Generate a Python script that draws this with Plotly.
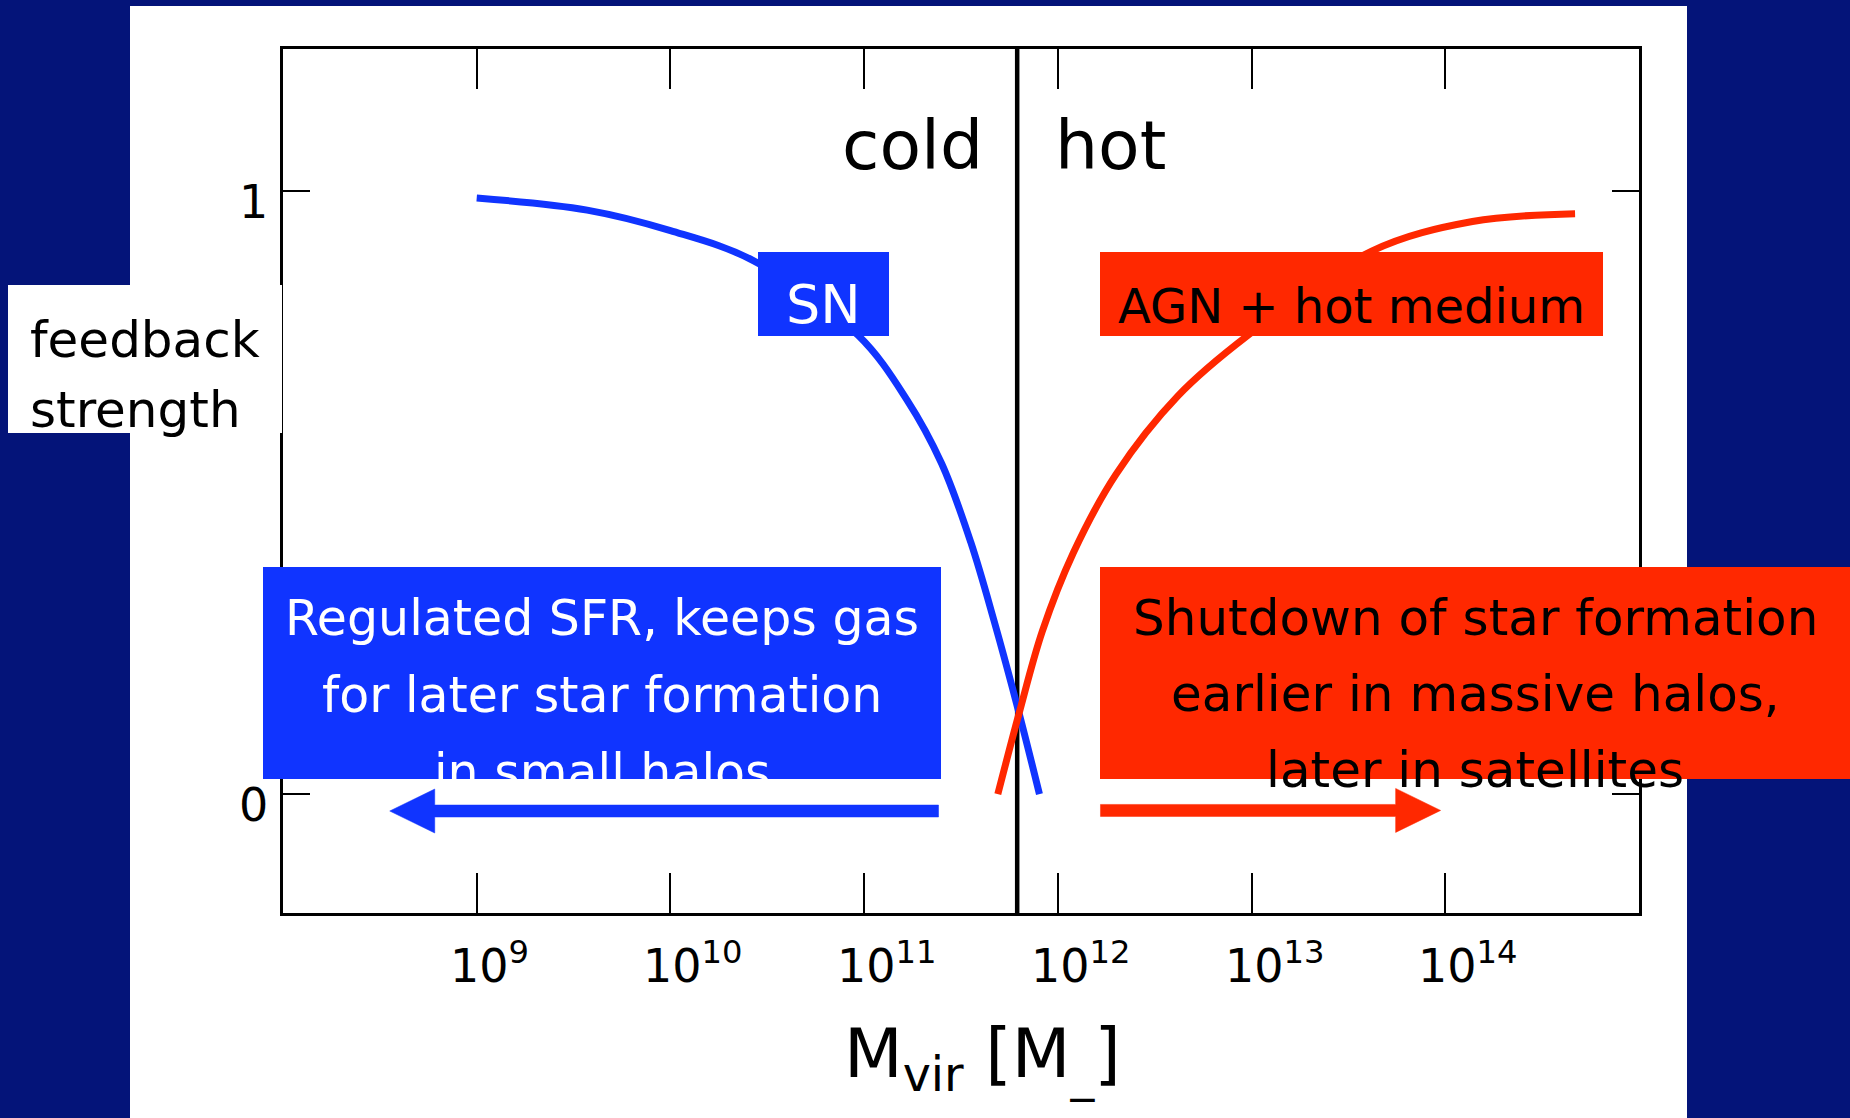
import numpy as np
import plotly.graph_objects as go

# ---------------- data ----------------
x_tick_exponents = [9, 10, 11, 12, 13, 14]          # ticks at 10^9 ... 10^14
y_tick_values = [0, 1]
y_tick_labels = ["0", "1"]

# SN feedback curve (log10 Mvir, feedback strength)
sn_log_mass = [9.0, 9.57, 10.0, 10.43, 10.97, 11.22, 11.40, 11.55, 11.67, 11.80, 11.905]
sn_strength = [0.988, 0.968, 0.934, 0.884, 0.760, 0.654, 0.548, 0.418, 0.288, 0.134, 0.0]

# AGN + hot medium feedback curve
agn_log_mass = [11.69, 11.80, 11.92, 12.08, 12.30, 12.62, 12.98, 13.62, 14.14, 14.67]
agn_strength = [0.0, 0.134, 0.270, 0.400, 0.530, 0.660, 0.760, 0.900, 0.949, 0.962]

# cold / hot transition mass (log10)
divider_log_mass = 11.79

# arrows (log10 mass of tail and tip, strength level)
blue_arrow_tail, blue_arrow_tip, blue_arrow_y = 11.384, 8.551, -0.028
red_arrow_tail, red_arrow_tip, red_arrow_y = 12.22, 13.976, -0.027

# text
cold_label, hot_label = "cold", "hot"
sn_label = "SN"
agn_label = "AGN + hot medium"
blue_lines = ["Regulated SFR, keeps gas", "for later star formation", "in small halos"]
red_lines = ["Shutdown of star formation", "earlier in massive halos,", "later in satellites"]
ylabel_lines = ["feedback", "strength"]
xtitle = "M<sub>vir</sub> [M<sub>_</sub>]"

# ---------------- layout constants ----------------
FIG_W, FIG_H = 1850, 1118
L, T, W, H = 283, 49, 1356, 864
XR = [8, 15]
YR = [-0.197, 1.235]
FONT = "DejaVu Sans"
NAVY = "#041479"
BLUE = "#1034FF"
RED = "#FF2800"
DESC = 0.236   # font descent (em)
ASC = 0.928    # font ascent (em)


def pxX(px):
    return (px - L) / W


def pxY(py):
    return (T + H - py) / H


def y_to_px(v):
    return T + (YR[1] - v) / (YR[1] - YR[0]) * H


fig = go.Figure()

# divider line
fig.add_trace(go.Scatter(x=[10 ** divider_log_mass] * 2, y=YR, mode="lines",
                         line=dict(color="black", width=4.5), hoverinfo="skip", showlegend=False))

# curves
fig.add_trace(go.Scatter(x=10 ** np.array(sn_log_mass), y=sn_strength, mode="lines",
                         line=dict(color=BLUE, width=7, shape="spline", smoothing=1.0),
                         showlegend=False))
fig.add_trace(go.Scatter(x=10 ** np.array(agn_log_mass), y=agn_strength, mode="lines",
                         line=dict(color=RED, width=7, shape="spline", smoothing=1.0),
                         showlegend=False))

# arrows as filled polygons
HEAD_LEN_DEC = 45 / (W / (XR[1] - XR[0]))
HEAD_HALF = 22 / H * (YR[1] - YR[0])
SHAFT_HALF = 6 / H * (YR[1] - YR[0])


def arrow(tail, tip, yc, color):
    d = np.sign(tip - tail)
    base = tip - d * HEAD_LEN_DEC
    xs = [tail, base, base, tip, base, base, tail, tail]
    ys = [yc + SHAFT_HALF, yc + SHAFT_HALF, yc + HEAD_HALF, yc, yc - HEAD_HALF,
          yc - SHAFT_HALF, yc - SHAFT_HALF, yc + SHAFT_HALF]
    fig.add_trace(go.Scatter(x=10 ** np.array(xs), y=ys, mode="lines", fill="toself",
                             fillcolor=color, line=dict(color=color, width=0.5),
                             hoverinfo="skip", showlegend=False))


arrow(blue_arrow_tail, blue_arrow_tip, blue_arrow_y, BLUE)
arrow(red_arrow_tail, red_arrow_tip, red_arrow_y, RED)

# ---------------- shapes ----------------
shapes = [
    # white slide panel
    dict(type="rect", xref="paper", yref="paper", x0=pxX(130), x1=pxX(1687), y0=pxY(6), y1=pxY(1118),
         fillcolor="white", line=dict(width=0), layer="below"),
    # y-label white box
    dict(type="rect", xref="paper", yref="paper", x0=pxX(8), x1=pxX(282), y0=pxY(285), y1=pxY(433),
         fillcolor="white", line=dict(width=0), layer="above"),
    # SN box
    dict(type="rect", xref="paper", yref="paper", x0=pxX(758), x1=pxX(889), y0=pxY(252), y1=pxY(336),
         fillcolor=BLUE, line=dict(width=0), layer="above"),
    # AGN box
    dict(type="rect", xref="paper", yref="paper", x0=pxX(1100), x1=pxX(1603), y0=pxY(252), y1=pxY(336),
         fillcolor=RED, line=dict(width=0), layer="above"),
    # big blue box
    dict(type="rect", xref="paper", yref="paper", x0=pxX(263), x1=pxX(941), y0=pxY(567), y1=pxY(779),
         fillcolor=BLUE, line=dict(width=0), layer="above"),
    # big red box
    dict(type="rect", xref="paper", yref="paper", x0=pxX(1100), x1=pxX(1850), y0=pxY(567), y1=pxY(779),
         fillcolor=RED, line=dict(width=0), layer="above"),
]

annotations = []


def label(text, x, baseline, size, color="black", xanchor="center", xref="paper", xshift=0):
    annotations.append(dict(text=text, x=x, xref=xref, y=pxY(baseline + DESC * size), yref="paper",
                            yanchor="bottom", xanchor=xanchor, showarrow=False, xshift=xshift,
                            font=dict(family=FONT, size=size, color=color),
                            borderpad=0, borderwidth=0))


# x tick labels
for e in x_tick_exponents:
    label(f"10<sup>{e}</sup>", e, 982, 46, xanchor="left", xref="x", xshift=-27)

# y tick labels
for v, t in zip(y_tick_values, y_tick_labels):
    label(t, pxX(253), y_to_px(v) + 27, 46)

# cold / hot
label(cold_label, pxX(912), 169, 68)
label(hot_label, pxX(1110), 169, 68)

# SN / AGN box labels
label(sn_label, pxX(823), 323, 54, color="white")
label(agn_label, pxX(1351), 323, 48)

# big box texts
for i, line in enumerate(blue_lines):
    label(line, pxX(602), 635 + 77 * i, 49, color="white")
for i, line in enumerate(red_lines):
    label(line, pxX(1475), 635 + 76 * i, 50)

# y label
label(ylabel_lines[0], pxX(30), 357, 50, xanchor="left")
label(ylabel_lines[1], pxX(30), 427, 50, xanchor="left")

# x title
annotations.append(dict(text=xtitle, x=pxX(983), xref="paper", y=pxY(1077 - ASC * 68), yref="paper",
                        yanchor="top", xanchor="center", showarrow=False,
                        font=dict(family=FONT, size=68, color="black"), borderpad=0, borderwidth=0))

fig.update_xaxes(type="log", range=XR, tickvals=[10 ** e for e in x_tick_exponents],
                 ticks="inside", ticklen=40, tickwidth=1.5, tickcolor="black",
                 showticklabels=False, showline=True, linewidth=3, linecolor="black",
                 mirror="allticks", showgrid=False, zeroline=False)
fig.update_yaxes(range=YR, tickvals=y_tick_values, ticks="inside", ticklen=27, tickwidth=1.5,
                 tickcolor="black", showticklabels=False, showline=True, linewidth=3,
                 linecolor="black", mirror="allticks", showgrid=False, zeroline=False)

fig.update_layout(width=FIG_W, height=FIG_H, autosize=False,
                  margin=dict(l=L, r=FIG_W - L - W, t=T, b=FIG_H - T - H, pad=0),
                  paper_bgcolor=NAVY, plot_bgcolor="white", showlegend=False,
                  shapes=shapes, annotations=annotations,
                  font=dict(family=FONT, color="black"))

fig.write_html("out.html", config={"displayModeBar": False},
               post_script="document.body.style.margin='0';document.body.style.background='%s';" % NAVY)
